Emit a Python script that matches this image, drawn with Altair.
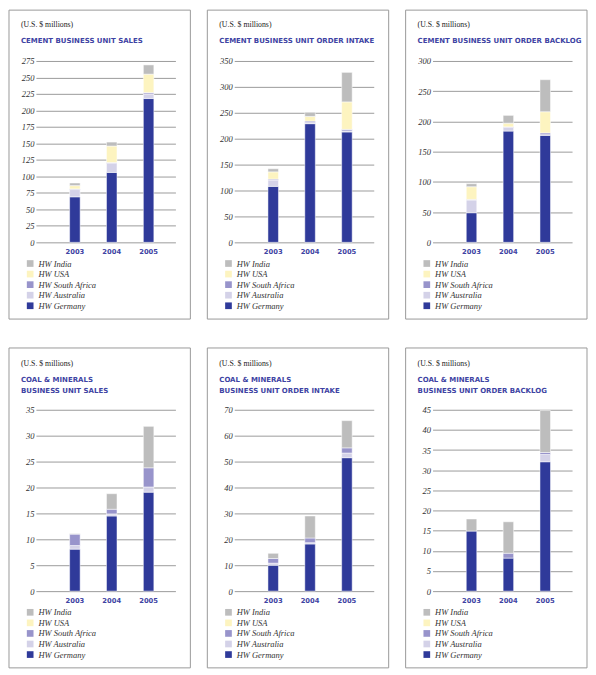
import altair as alt
import pandas as pd

years = ["2003", "2004", "2005"]
stack_order = ["HW Germany", "HW Australia", "HW South Africa", "HW USA", "HW India"]
legend_order = ["HW India", "HW USA", "HW South Africa", "HW Australia", "HW Germany"]
legend_colors = ["#bdbdbd", "#fdf4c0", "#9894cb", "#d4d2e8", "#2f3a9a"]

# values per region, in the order of `years`
cement_sales = {
    "HW Germany": [69, 106, 218],
    "HW Australia": [11, 14, 7],
    "HW South Africa": [1, 1, 2],
    "HW USA": [5, 25, 28],
    "HW India": [4, 6, 14],
}
cement_intake = {
    "HW Germany": [108, 229, 213],
    "HW Australia": [12, 2, 2],
    "HW South Africa": [2, 3, 3],
    "HW USA": [14, 9, 53],
    "HW India": [6, 8, 57],
}
cement_backlog = {
    "HW Germany": [49, 184, 177],
    "HW Australia": [21, 6, 1],
    "HW South Africa": [1, 1, 3],
    "HW USA": [21, 6, 35],
    "HW India": [5, 13, 53],
}
coal_sales = {
    "HW Germany": [8.1, 14.5, 19.1],
    "HW Australia": [0.7, 0.4, 1.0],
    "HW South Africa": [2.2, 0.9, 3.7],
    "HW USA": [0, 0, 0],
    "HW India": [0.1, 3.0, 8.0],
}
coal_intake = {
    "HW Germany": [10.0, 18.2, 51.5],
    "HW Australia": [0.8, 0.5, 1.8],
    "HW South Africa": [1.8, 1.8, 2.0],
    "HW USA": [0, 0, 0],
    "HW India": [2.0, 8.5, 10.5],
}
coal_backlog = {
    "HW Germany": [14.9, 8.2, 32.1],
    "HW Australia": [0, 0, 1.8],
    "HW South Africa": [0, 1.2, 0.5],
    "HW USA": [0, 0, 0],
    "HW India": [3.0, 7.8, 10.4],
}

BLUE_TEXT = "#3e43a3"
PLOT_W = 140
PLOT_H = 182


def make_df(vals):
    rows = []
    for rank, reg in enumerate(stack_order):
        for yr, v in zip(years, vals[reg]):
            if v > 0:
                rows.append({"year": yr, "region": reg, "value": v, "rank": rank})
    return pd.DataFrame(rows)


def panel(vals, ymax, step, subtitle, top, bottom, legend_y, title_offset):
    df = make_df(vals)
    ticks = list(range(0, ymax + 1, step))
    bars = alt.Chart(df).mark_bar(stroke="white", strokeWidth=0.5).encode(
        x=alt.X(
            "year:N",
            scale=alt.Scale(domain=years, paddingInner=0.715, paddingOuter=0.75, align=0.61),
            axis=alt.Axis(
                domain=False, ticks=False, grid=False, labelAngle=0,
                labelFont="DejaVu Sans", labelFontWeight="bold", labelFontSize=6.8,
                labelColor=BLUE_TEXT, labelPadding=6.5,
            ),
            title=None,
        ),
        y=alt.Y(
            "value:Q",
            stack="zero",
            scale=alt.Scale(domain=[0, ymax], nice=False),
            axis=alt.Axis(
                values=ticks, grid=True, gridColor="#9c9c9c", gridWidth=1,
                domain=False, ticks=False, labelFont="Liberation Serif",
                labelFontStyle="italic", labelFontSize=8.5, labelColor="#333333",
                labelPadding=2, labelOverlap=False,
            ),
            title=None,
        ),
        color=alt.Color(
            "region:N",
            scale=alt.Scale(domain=legend_order, range=legend_colors),
            legend=alt.Legend(
                orient="none", legendX=-10, legendY=legend_y, title=None,
                symbolType="square", symbolSize=45, symbolStrokeWidth=0,
                symbolOpacity=1, labelFont="Liberation Serif",
                labelFontStyle="italic", labelFontSize=8.5, labelColor="#333333",
                rowPadding=1.6, padding=0, labelOffset=4,
            ),
        ),
        order=alt.Order("rank:Q", sort="ascending"),
    )
    frame = alt.Chart(pd.DataFrame({"k": [0]})).mark_rect(
        filled=False, stroke="#9a9a9a", strokeWidth=1
    ).encode(
        x=alt.value(-27), x2=alt.value(PLOT_W + 15), y=alt.value(top), y2=alt.value(bottom)
    )
    return alt.layer(frame, bars).properties(
        width=PLOT_W,
        height=PLOT_H,
        title=alt.TitleParams(
            text="(U.S. $ millions)",
            subtitle=subtitle,
            anchor="start",
            frame="group",
            dx=-15,
            offset=title_offset,
            font="Liberation Serif",
            fontSize=7.8,
            fontWeight="normal",
            color="#222222",
            subtitleFont="DejaVu Sans",
            subtitleFontSize=7,
            subtitleFontWeight="bold",
            subtitleColor=BLUE_TEXT,
            subtitlePadding=8.5,
            subtitleLineHeight=10.7,
        ),
    )


p1 = panel(cement_sales, 275, 25, ["CEMENT BUSINESS UNIT SALES"], -51, 259, 199, -34.7)
p2 = panel(cement_intake, 350, 50, ["CEMENT BUSINESS UNIT ORDER INTAKE"], -51, 259, 199, -34.7)
p3 = panel(cement_backlog, 300, 50, ["CEMENT BUSINESS UNIT ORDER BACKLOG"], -51, 259, 199, -34.7)
p4 = panel(coal_sales, 35, 5, ["COAL & MINERALS", "BUSINESS UNIT SALES"], -62, 259, 199, -46.2)
p5 = panel(coal_intake, 70, 10, ["COAL & MINERALS", "BUSINESS UNIT ORDER INTAKE"], -62, 259, 199, -46.2)
p6 = panel(coal_backlog, 45, 5, ["COAL & MINERALS", "BUSINESS UNIT ORDER BACKLOG"], -62, 259, 199, -46.2)

row1 = alt.hconcat(p1, p2, p3, spacing=15).resolve_scale(color="independent").resolve_legend(color="independent")
row2 = alt.hconcat(p4, p5, p6, spacing=15).resolve_scale(color="independent").resolve_legend(color="independent")

chart = alt.vconcat(row1, row2, spacing=27).resolve_scale(
    color="independent"
).resolve_legend(color="independent").properties(
    padding=0, background="white"
).configure_view(strokeWidth=0)

chart.save("out.html", embed_options={"renderer": "svg", "actions": False})
